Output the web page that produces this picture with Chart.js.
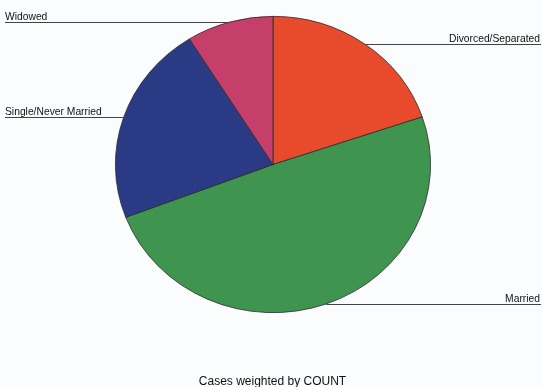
<!DOCTYPE html>
<html>
<head>
<meta charset="utf-8">
<script src="https://cdn.jsdelivr.net/npm/chart.js@4/dist/chart.umd.min.js"></script>
<style>
  html, body { margin: 0; padding: 0; background: #fbfcfd; }
  #wrap { width: 542px; height: 387px; position: relative; }
</style>
</head>
<body>
<div id="wrap"><canvas id="pieChart"></canvas></div>
<script>
// marital status, percent of cases
const categories = ['Divorced/Separated', 'Married', 'Single/Never Married', 'Widowed'];
const shares = [19.8, 49.4, 21.9, 8.9];
const sliceColors = ['#e84a2c', '#3f9550', '#2a3a85', '#c63e6a'];
const footerText = 'Cases weighted by COUNT';

const squash = 0.94; // the scanned pie is slightly flattened
const labelFont = "10.3px 'Liberation Sans', Arial, sans-serif";

// flatten the pie a bit around its centre
const flattenPie = {
  id: 'flattenPie',
  beforeDatasetsDraw(chart) {
    const arc = chart.getDatasetMeta(0).data[0];
    const ctx = chart.ctx;
    ctx.save();
    ctx.translate(arc.x, arc.y);
    ctx.scale(1, squash);
    ctx.translate(-arc.x, -arc.y);
  },
  afterDatasetsDraw(chart) {
    chart.ctx.restore();
  }
};

// leader lines + labels, and the footer
const sideLabels = {
  id: 'sideLabels',
  afterDraw(chart) {
    const ctx = chart.ctx;
    const W = chart.width;
    ctx.save();
    ctx.font = labelFont;
    ctx.fillStyle = '#111';
    ctx.strokeStyle = '#444';
    ctx.lineWidth = 1;
    chart.getDatasetMeta(0).data.forEach((arc, i) => {
      const mid = (arc.startAngle + arc.endAngle) / 2;
      const px = arc.x + arc.outerRadius * Math.cos(mid);
      const py = Math.round(arc.y + squash * arc.outerRadius * Math.sin(mid)) + 0.5;
      const right = Math.cos(mid) > 0;
      ctx.beginPath();
      if (right) {
        ctx.moveTo(px, py);
        ctx.lineTo(W - 1, py);
      } else {
        ctx.moveTo(5, py);
        ctx.lineTo(px, py);
      }
      ctx.stroke();
      ctx.textBaseline = 'alphabetic';
      ctx.textAlign = right ? 'right' : 'left';
      ctx.fillText(categories[i], right ? W - 2 : 5, py - 2.5);
    });
    ctx.font = "12px 'Liberation Sans', Arial, sans-serif";
    ctx.textAlign = 'center';
    ctx.fillText(footerText, 272.5, 385);
    ctx.restore();
  }
};

const ctx = document.getElementById('pieChart').getContext('2d');
const chart = new Chart(ctx, {
  type: 'pie',
  data: {
    labels: categories,
    datasets: [{
      data: shares,
      backgroundColor: sliceColors,
      borderColor: '#2a2a2a',
      borderWidth: 0.8
    }]
  },
  options: {
    responsive: true,
    maintainAspectRatio: false,
    animation: false,
    layout: { padding: { left: 115, right: 111, top: 6.5, bottom: 64.5 } },
    plugins: {
      legend: { display: false },
      tooltip: { enabled: false }
    }
  },
  plugins: [flattenPie, sideLabels]
});
</script>
</body>
</html>
